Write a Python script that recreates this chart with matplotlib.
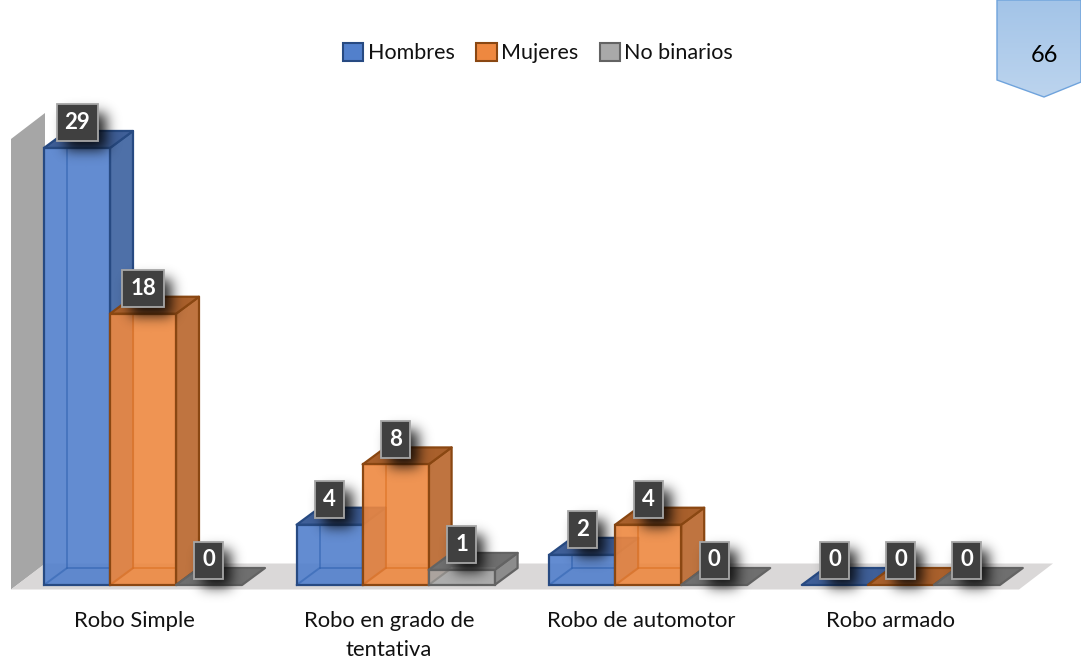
import math
import numpy as np
import matplotlib
matplotlib.use("Agg")
import matplotlib.pyplot as plt
from matplotlib.patches import Polygon, Rectangle

categories = ["Robo Simple", "Robo en grado de\ntentativa", "Robo de automotor", "Robo armado"]
series_names = ["Hombres", "Mujeres", "No binarios"]
hombres = [29, 4, 2, 0]
mujeres = [18, 8, 4, 0]
no_binarios = [0, 1, 0, 0]
page_number = "66"

face = ["#5280CC", "#EE8840", "#A9A9A9"]
side = ["#4E70A8", "#BF7440", "#8C8C8C"]
top = ["#3F5F98", "#A9602C", "#6F6F6F"]
edge = ["#274A82", "#8A4712", "#636363"]
inner = ["#2F62B0", "#DB6F20", "#808080"]

plt.rcParams['font.family'] = ['Lato', 'DejaVu Sans']
W, H = 1081, 657
fig = plt.figure(figsize=(W / 100, H / 100), dpi=100)
ax = fig.add_axes([0, 0, 1, 1])
ax.axis("off")

STEP = 252.6     # px per category
PXV = 15.07      # px per value unit
X0, Y0 = 44, 585
ax.set_xlim(-X0 / STEP, (W - X0) / STEP)
ax.set_ylim(-(H - Y0) / PXV, Y0 / PXV)
ax.autoscale(False)

BW = 66 / STEP
DX, DY = 23 / STEP, 17 / PXV
ux, uy = 1 / STEP, 1 / PXV   # one pixel in data units

# wall and floor
fx0 = -33 * ux
fy0 = -4.5 * uy
ax.add_patch(Polygon([(fx0, fy0), (fx0, 446 * uy), (ux, 472 * uy), (ux, 21 * uy)],
                     closed=True, fc="#A6A6A6", ec="none", zorder=1))
ax.add_patch(Polygon([(fx0, fy0), (975 * ux, fy0), (1009 * ux, 21.5 * uy), (ux, 21.5 * uy)],
                     closed=True, fc="#DAD8D8", ec="none", zorder=1))

z = 2
all_vals = [hombres, mujeres, no_binarios]
for c in range(len(categories)):
    for s, vals in enumerate(all_vals):
        v = vals[c]
        x = c + s * BW
        lw = 1.6
        kw = dict(closed=True, lw=lw, ec=edge[s], joinstyle="round")
        if v > 0:
            ax.add_patch(Polygon([(x + BW, 0), (x + BW + DX, DY), (x + BW + DX, v + DY), (x + BW, v)],
                                 fc=side[s], zorder=z, **kw))
            ax.add_patch(Polygon([(x, v), (x + DX, v + DY), (x + BW + DX, v + DY), (x + BW, v)],
                                 fc=top[s], zorder=z, **kw))
            ax.add_patch(Rectangle((x, 0), BW, v, fc=face[s], alpha=.90, zorder=z + .5, ec="none"))
            # back edges seen through the translucent front
            ax.plot([x + DX, x + DX], [DY, v], color=inner[s], lw=1.4, alpha=.55, zorder=z + .6)
            ax.plot([x, x + DX, x + BW], [0, DY, DY], color=inner[s], lw=1.4, alpha=.55, zorder=z + .6)
            ax.add_patch(Rectangle((x, 0), BW, v, fc="none", ec=edge[s], lw=lw, zorder=z + .7))
        else:
            ax.add_patch(Polygon([(x, 0), (x + DX, DY), (x + BW + DX, DY), (x + BW, 0)],
                                 fc=top[s], zorder=z, **kw))
        z += 1

# soft shadow: box profile smoothed with a gaussian edge
erf = np.vectorize(math.erf)
def soft_shadow(cx_px, cy_px, w, h, sigma=6.5, peak=.85, off=(8, 9), pad=22):
    xs = np.arange(-w / 2 - pad, w / 2 + pad + 1)
    ys = np.arange(-h / 2 - pad, h / 2 + pad + 1)
    ax_ = .5 * (erf((xs + w / 2) / (sigma * 1.414)) - erf((xs - w / 2) / (sigma * 1.414)))
    ay_ = .5 * (erf((ys + h / 2) / (sigma * 1.414)) - erf((ys - h / 2) / (sigma * 1.414)))
    rgba = np.zeros((len(ys), len(xs), 4))
    rgba[..., 3] = peak * np.outer(ay_, ax_)
    l = cx_px + off[0] + xs[0]
    r = cx_px + off[0] + xs[-1]
    t = cy_px - off[1] - ys[0]
    b = cy_px - off[1] - ys[-1]
    ax.imshow(rgba, extent=(l * ux, r * ux, b * uy, t * uy), aspect="auto",
              zorder=40, origin="upper", interpolation="bilinear")

# data labels
BOXH = 37
for c in range(len(categories)):
    for s, vals in enumerate(all_vals):
        v = vals[c]
        cx = c + s * BW + 33 * ux
        cy = v + 25 * uy
        boxw = 41 if v >= 10 else 29
        soft_shadow(cx / ux, cy / uy, boxw, BOXH)
        ax.add_patch(Rectangle((cx - boxw / 2 * ux, cy - BOXH / 2 * uy), boxw * ux, BOXH * uy,
                               fc="#404040", ec="#A6A6A6", lw=1.3, zorder=41))
        ax.text(cx, cy, str(v), color="white", fontsize=16, fontweight="bold",
                ha="center", va="center", zorder=42)

# category labels
label_x = [90.5 / STEP, 345 / STEP, 597 / STEP, 846 / STEP]
for lx, name in zip(label_x, categories):
    parts = name.split("\n")
    ax.text(lx, -(621 - Y0) * uy, parts[0], ha="center", va="center",
            fontsize=15.8, color="#111111", zorder=50)
    if len(parts) > 1:
        ax.text(lx, -(650 - Y0) * uy, parts[1], ha="center", va="center",
                fontsize=15.8, color="#111111", zorder=50)

# legend
handles = [Rectangle((0, 0), 1, 1, fc=face[i], ec=edge[i], lw=1.5) for i in range(3)]
ax.legend(handles, series_names, ncol=3, loc="center", frameon=False,
          bbox_to_anchor=(538 / W, 1 - 53 / H), fontsize=15.5, handlelength=0.95, handleheight=0.95,
          handletextpad=0.2, columnspacing=1.0, labelcolor="#111111", borderpad=0, borderaxespad=0)

# page tab
to_x = lambda p: (p - X0) * ux
to_y = lambda p: (Y0 - p) * uy
px = [997, 997, 1044, 1081, 1081]
py = [0, 80, 97, 82, 0]
tab = Polygon(list(zip(map(to_x, px), map(to_y, py))), closed=True, fc="none",
              ec="#6FA3DC", lw=1, zorder=59)
ax.add_patch(tab)
grad = np.linspace(0, 1, 100).reshape(-1, 1)
cmap = matplotlib.colors.LinearSegmentedColormap.from_list("t", ["#A3C4E8", "#BCD4EE"])
im = ax.imshow(grad, cmap=cmap, extent=(to_x(997), to_x(1081), to_y(97), to_y(0)),
               aspect="auto", zorder=58, origin="upper")
im.set_clip_path(tab)
ax.text(to_x(1044), to_y(55.5), page_number, fontsize=17, ha="center", va="center", color="black", zorder=60)

fig.savefig("out.png", dpi=100, facecolor="white")
